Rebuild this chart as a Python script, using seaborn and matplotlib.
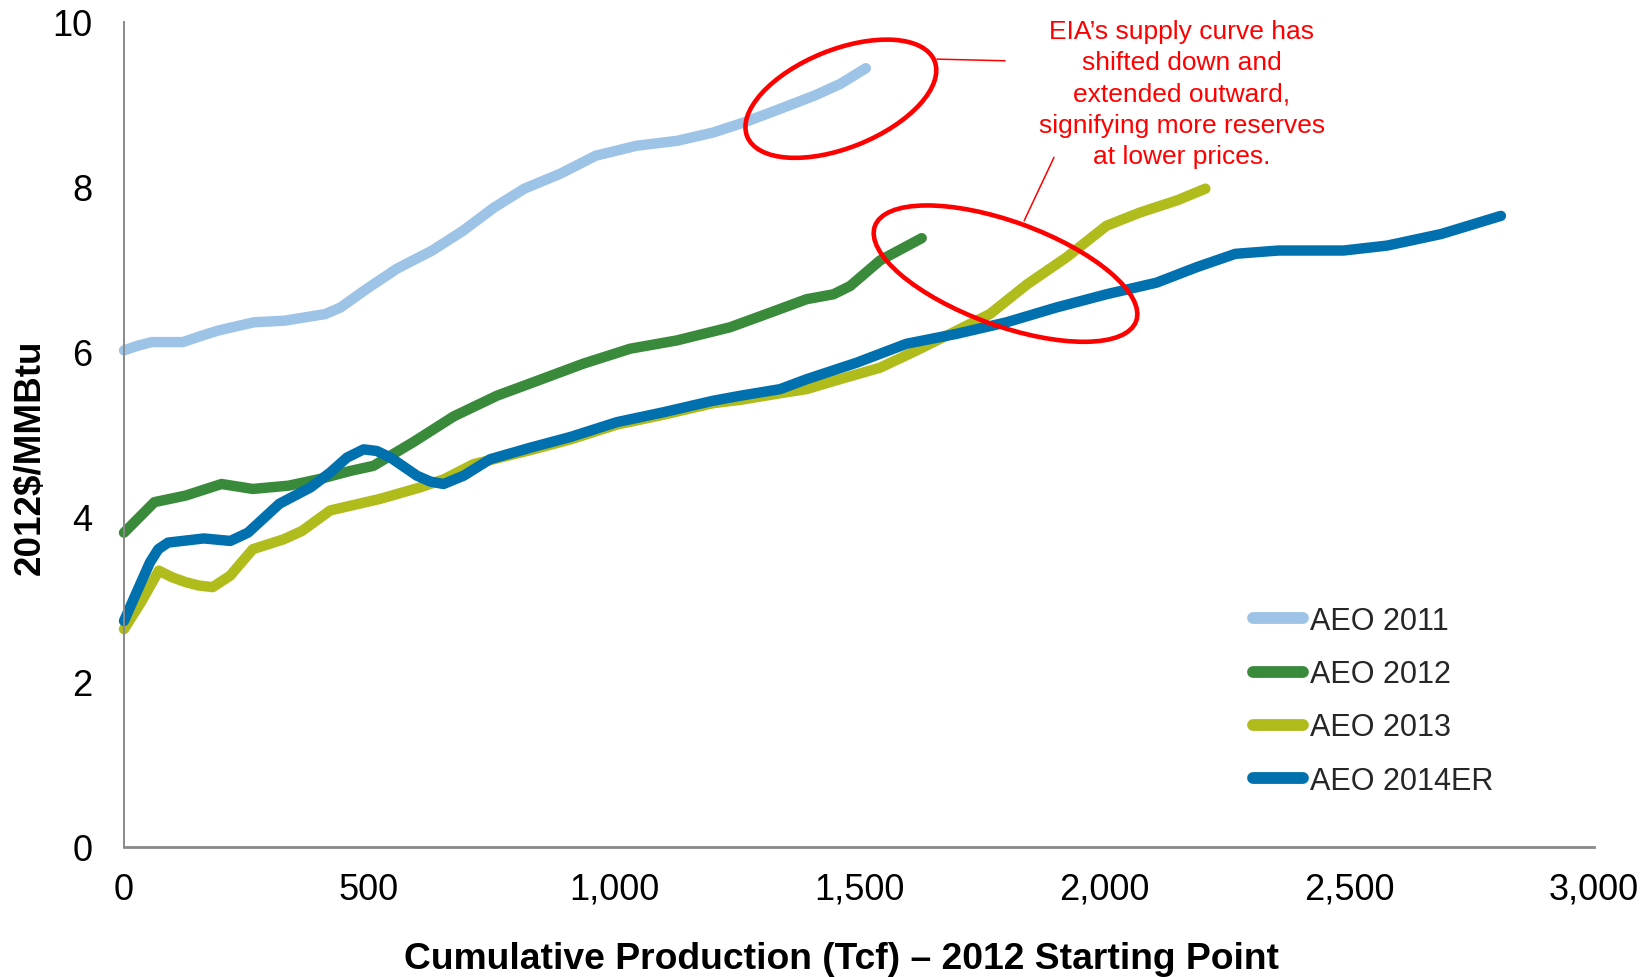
import numpy as np
import pandas as pd
import matplotlib
matplotlib.use("Agg")
import matplotlib.pyplot as plt
import matplotlib.transforms as mtransforms
from matplotlib.patches import Ellipse
from matplotlib.lines import Line2D
from matplotlib.ticker import FuncFormatter
import seaborn as sns

# ---- data: natural gas supply curves (price vs. cumulative production) ----
series_names = ["AEO 2011", "AEO 2012", "AEO 2013", "AEO 2014ER"]
series_colors = ["#9DC3E6", "#3A8A3C", "#B0BC1C", "#0070AE"]

aeo2011_tcf = [0, 30, 57, 120, 155, 192, 265, 328, 411, 442, 494, 557, 629, 692, 755, 817,
               890, 963, 1046, 1129, 1202, 1264, 1327, 1410, 1462, 1514]
aeo2011_price = [6.02, 6.08, 6.12, 6.12, 6.19, 6.26, 6.36, 6.38, 6.46, 6.54, 6.76, 7.01,
                 7.23, 7.47, 7.75, 7.98, 8.16, 8.38, 8.50, 8.56, 8.66, 8.78, 8.92, 9.11,
                 9.25, 9.44]

aeo2012_tcf = [0, 62, 126, 199, 263, 336, 399, 463, 509, 591, 673, 761, 843, 938, 1033,
               1128, 1237, 1320, 1393, 1448, 1482, 1543, 1628]
aeo2012_price = [3.81, 4.18, 4.26, 4.40, 4.34, 4.38, 4.46, 4.56, 4.62, 4.91, 5.22, 5.47,
                 5.65, 5.86, 6.04, 6.14, 6.30, 6.48, 6.64, 6.70, 6.80, 7.11, 7.38]

aeo2013_tcf = [0, 35, 71, 98, 126, 152, 181, 217, 234, 263, 326, 363, 421, 523, 605, 654,
               713, 829, 911, 1006, 1101, 1203, 1258, 1339, 1393, 1461, 1543, 1611, 1693,
               1767, 1843, 1924, 2005, 2073, 2150, 2207]
aeo2013_price = [2.64, 2.97, 3.35, 3.27, 3.21, 3.17, 3.15, 3.29, 3.41, 3.61, 3.73, 3.83,
                 4.08, 4.22, 4.36, 4.46, 4.64, 4.81, 4.94, 5.12, 5.24, 5.38, 5.42, 5.50,
                 5.55, 5.67, 5.81, 6.00, 6.24, 6.46, 6.82, 7.15, 7.53, 7.69, 7.84, 7.98]

aeo2014_tcf = [0, 26, 53, 70, 90, 163, 217, 253, 317, 381, 421, 455, 489, 516, 544, 598,
               625, 652, 693, 747, 829, 911, 1006, 1101, 1203, 1258, 1339, 1393, 1495,
               1597, 1699, 1801, 1903, 2005, 2107, 2190, 2268, 2356, 2489, 2578, 2688,
               2810]
aeo2014_price = [2.74, 3.09, 3.45, 3.61, 3.69, 3.74, 3.71, 3.81, 4.16, 4.36, 4.54, 4.72,
                 4.82, 4.80, 4.72, 4.50, 4.43, 4.40, 4.50, 4.70, 4.84, 4.97, 5.15, 5.27,
                 5.41, 5.47, 5.55, 5.67, 5.87, 6.10, 6.22, 6.36, 6.54, 6.70, 6.84, 7.03,
                 7.19, 7.23, 7.23, 7.29, 7.43, 7.65]

x_ticks = [0, 500, 1000, 1500, 2000, 2500, 3000]
y_ticks = [0, 2, 4, 6, 8, 10]

note_text = ("EIA\u2019s supply curve has\nshifted down and\nextended outward,\n"
             "signifying more reserves\nat lower prices.")

frames = []
for name, xs, ys in zip(series_names,
                        [aeo2011_tcf, aeo2012_tcf, aeo2013_tcf, aeo2014_tcf],
                        [aeo2011_price, aeo2012_price, aeo2013_price, aeo2014_price]):
    frames.append(pd.DataFrame({"tcf": xs, "price": ys, "case": name}))
df = pd.concat(frames, ignore_index=True)

# ---- styling ----
sns.set_theme(style="white")
plt.rcParams["font.family"] = ["Liberation Sans", "DejaVu Sans"]

W, H = 1652, 978
fig = plt.figure(figsize=(W / 100, H / 100), dpi=100)
ax = fig.add_axes([124 / W, 1 - 848 / H, 1470 / W, 825 / H])

palette = dict(zip(series_names, series_colors))
sns.lineplot(data=df, x="tcf", y="price", hue="case", hue_order=series_names,
             palette=palette, sort=False, estimator=None, linewidth=7.5,
             legend=False, ax=ax)
for ln in ax.get_lines():
    ln.set_solid_capstyle("round")
    ln.set_solid_joinstyle("round")
    ln.set_antialiased(True)
    ln.set_clip_on(False)

ax.set_xlim(0, 3000)
ax.set_ylim(0, 10)
ax.set_xticks(x_ticks)
ax.set_yticks(y_ticks)
ax.xaxis.set_major_formatter(FuncFormatter(lambda v, p: f"{int(v):,}"))

axis_gray = "#898989"
for side in ("top", "right"):
    ax.spines[side].set_visible(False)
ax.spines["left"].set_color(axis_gray)
ax.spines["left"].set_linewidth(1.4)
ax.spines["bottom"].set_color(axis_gray)
ax.spines["bottom"].set_linewidth(2.0)
ax.tick_params(axis="both", which="major", direction="out", length=8.4, width=1.4,
               color=axis_gray, labelsize=26, labelcolor="black")
ax.tick_params(axis="y", pad=14.5)
ax.tick_params(axis="x", pad=9.5)
ax.grid(False)

ax.set_xlabel("Cumulative Production (Tcf) \u2013 2012 Starting Point",
              fontsize=26.8, fontweight="bold", color="black")
ax.set_ylabel("2012$/MMBtu", fontsize=26.5, fontweight="bold", color="black")
ax.xaxis.set_label_coords(0.488, -0.114)
ax.yaxis.set_label_coords(-0.052, 0.474)

# ---- legend ----
handles = [Line2D([0], [0], color=c, lw=8.5, solid_capstyle="round") for c in series_colors]
ax.legend(handles, series_names, loc="upper left",
          bbox_to_anchor=(1253 / W, 1 - 607 / H), bbox_transform=fig.transFigure,
          frameon=False, fontsize=22, handlelength=1.65, handletextpad=0.2,
          labelspacing=0.76, borderpad=0, borderaxespad=0)

# ---- callout: red rings, leader lines and note ----
red = "#FF0000"


def ring(cx, cy, a_px, b_px, angle):
    tr = fig.dpi_scale_trans + mtransforms.ScaledTranslation(cx, cy, ax.transData)
    ax.add_patch(Ellipse((0, 0), 2 * a_px / fig.dpi, 2 * b_px / fig.dpi, angle=angle,
                         transform=tr, fill=False, edgecolor=red, linewidth=3.3,
                         zorder=6, clip_on=False))


ring(1463, 9.07, 101, 49, 22)
ring(1799, 6.95, 139, 52, -20)

ax.plot([1659, 1798], [9.55, 9.53], color=red, lw=1.1, zorder=6, clip_on=False)
ax.plot([1898, 1837], [8.36, 7.59], color=red, lw=1.1, zorder=6, clip_on=False)

ax.text(2159, 9.135, note_text, color=red, fontsize=19, ha="center", va="center",
        linespacing=1.39, zorder=7)

fig.savefig("out.png", dpi=100)
